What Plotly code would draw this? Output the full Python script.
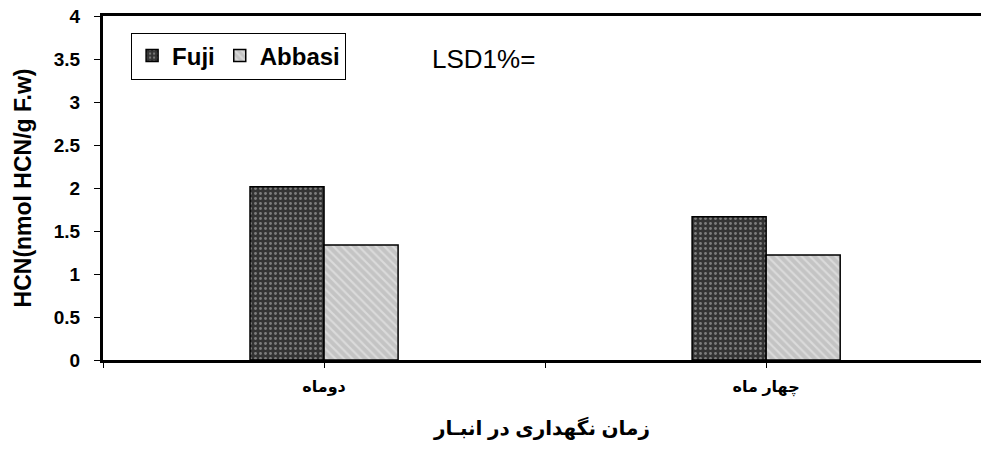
import plotly.graph_objects as go

categories = ["دوماه", "چهار ماه"]
fuji = [2.015, 1.666]
abbasi = [1.337, 1.22]
y_ticks = [0, 0.5, 1, 1.5, 2, 2.5, 3, 3.5, 4]
y_tick_text = ["0", "0.5", "1", "1.5", "2", "2.5", "3", "3.5", "4"]

font = "Arial, Liberation Sans, DejaVu Sans, sans-serif"
xpos = list(range(len(categories)))

fig = go.Figure()
fig.add_trace(go.Bar(
    x=xpos, y=fuji, name="Fuji",
    marker=dict(color="#333333", line=dict(color="black", width=1.5),
                pattern=dict(shape=".", fgcolor="#c8c8c8", bgcolor="#333333",
                             size=5, solidity=0.25)),
))
fig.add_trace(go.Bar(
    x=xpos, y=abbasi, name="Abbasi",
    marker=dict(color="#c8c8c8", line=dict(color="black", width=1.5),
                pattern=dict(shape="\\", fgcolor="#f2f2f2", bgcolor="#c4c4c4",
                             size=6, solidity=0.35)),
))

fig.update_layout(
    width=981, height=449,
    margin=dict(l=103, r=0, t=16, b=89),
    paper_bgcolor="white", plot_bgcolor="white",
    barmode="group", bargap=0.665, bargroupgap=0,
    font=dict(family=font, color="black"),
    legend=dict(orientation="h", x=0.032, y=0.952, xanchor="left", yanchor="top",
                bordercolor="black", borderwidth=1, bgcolor="white",
                font=dict(size=24, family=font, weight="bold"),
                itemwidth=30, tracegroupgap=0),
    xaxis=dict(showline=True, linecolor="black", linewidth=3, mirror=True,
               automargin=False, range=[-0.5, 1.486],
               tickvals=xpos, ticktext=categories,
               ticks="outside", ticklen=5, tickcolor="black", showgrid=False,
               zeroline=False, ticklabelstandoff=5,
               minor=dict(tickvals=[-0.5, 0.5, 1.5], ticks="outside", ticklen=5,
                          tickcolor="black", showgrid=False),
               tickfont=dict(size=16, family=font, weight="bold"),
               title=dict(text="زمان نگهداری در انبـار",
                          font=dict(size=20, family=font, weight="bold"), standoff=25)),
    yaxis=dict(range=[0, 4], tickvals=y_ticks, ticktext=y_tick_text,
               showline=True, linecolor="black", linewidth=3, mirror=False,
               automargin=False, ticklabeloverflow="allow",
               ticks="outside", ticklen=6, tickcolor="black", showgrid=False,
               zeroline=False, ticklabelstandoff=10,
               tickfont=dict(size=19, family=font, weight="bold"),
               title=dict(text="HCN(nmol HCN/g F.w)",
                          font=dict(size=23, family=font, weight="bold"), standoff=16)),
    annotations=[dict(text="LSD1%=", x=0.372, y=0.875, xref="paper", yref="paper",
                      xanchor="left", yanchor="middle", showarrow=False,
                      font=dict(size=26, family=font))],
)

# drop the browser's default 8px body margin so the figure fills the window
fig.write_html("out.html", config={"displayModeBar": False},
               post_script="document.body.style.margin='0px';")
